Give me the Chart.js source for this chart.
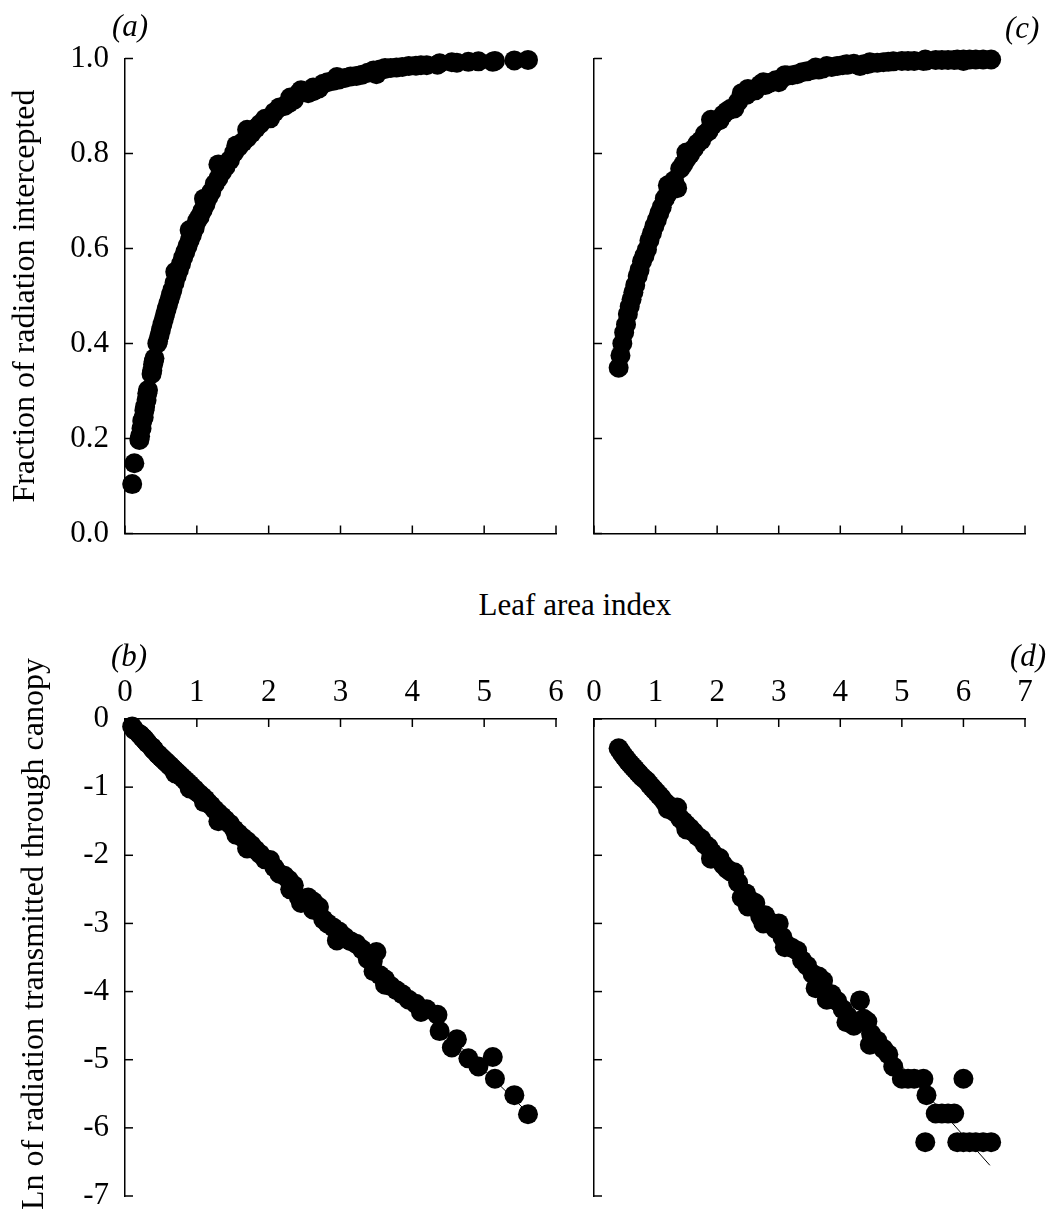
<!DOCTYPE html>
<html>
<head>
<meta charset="utf-8">
<script src="https://cdn.jsdelivr.net/npm/chart.js@4.4.0/dist/chart.umd.min.js"></script>
<style>
  html, body { margin: 0; padding: 0; background: #fff; overflow: hidden; }
  #page { position: relative; width: 1053px; height: 1209px; font-family: 'Liberation Serif', 'Times New Roman', serif; color: #000; }
  canvas { position: absolute; }
  .lbl { position: absolute; font-size: 31px; line-height: 31px; white-space: nowrap; }
  .panel { font-style: italic; }
  .ytitle { position: absolute; width: 700px; font-size: 32px; line-height: 32px; text-align: center; white-space: nowrap; transform: rotate(-90deg); }
</style>
</head>
<body>
<div id="page">
  <canvas id="chartA" width="575" height="575" style="left:0;top:0"></canvas>
  <canvas id="chartC" width="478" height="575" style="left:575px;top:0"></canvas>
  <canvas id="chartB" width="575" height="600" style="left:0;top:640px"></canvas>
  <canvas id="chartD" width="478" height="600" style="left:575px;top:640px"></canvas>

  <div class="lbl panel" style="left:112px;top:10px">(a)</div>
  <div class="lbl panel" style="left:1005px;top:12px">(c)</div>
  <div class="lbl panel" style="left:111px;top:640px">(b)</div>
  <div class="lbl panel" style="left:1010px;top:640px">(d)</div>

  <div class="lbl" style="left:375px;width:400px;text-align:center;top:589px">Leaf area index</div>
  <div class="ytitle" style="left:-327px;top:280px">Fraction of radiation intercepted</div>
  <div class="ytitle" style="left:-318px;top:918px">Ln of radiation transmitted through canopy</div>
</div>

<script>
// Leaf area index of each observation, first crop (panels a and b)
const laiAB = [0.10, 0.13, 0.20, 0.21, 0.23, 0.24, 0.26, 0.27, 0.28, 0.30, 0.31, 0.32,
  0.37, 0.38, 0.39, 0.40, 0.41, 0.45, 0.46, 0.48, 0.50, 0.52, 0.54, 0.56, 0.58, 0.60,
  0.62, 0.64, 0.66, 0.69, 0.72, 0.75, 0.78, 0.81, 0.84, 0.87, 0.90, 0.93, 0.97, 1.00,
  1.04, 1.08, 1.12, 1.16, 1.20, 1.25, 1.30, 1.35, 1.40, 1.46, 1.52, 1.58, 1.64, 1.70,
  1.76, 1.82, 1.88, 1.95, 2.02, 2.08, 2.15, 2.22, 2.28, 2.35, 2.42, 2.48, 2.55, 2.62,
  2.70, 2.76, 2.82, 2.90, 2.98, 3.06, 3.14, 3.22, 3.30, 3.38, 3.46, 3.50, 3.55, 3.62,
  3.70, 3.78, 3.86, 3.95, 4.05, 4.12, 4.20, 4.35, 4.38, 4.55, 4.62, 4.78, 4.92, 5.12,
  5.15, 5.42, 5.61,
  0.70, 0.90, 1.10, 1.30, 1.55, 1.70, 2.30, 2.45, 2.62, 2.95, 3.45, 3.62];

// (a) fraction of radiation intercepted
const fracA = [0.104, 0.148, 0.197, 0.205, 0.221, 0.237, 0.244, 0.259, 0.267, 0.281, 0.295, 0.302,
  0.336, 0.343, 0.356, 0.362, 0.369, 0.400, 0.405, 0.417, 0.429, 0.440, 0.451, 0.462, 0.473, 0.483,
  0.493, 0.503, 0.513, 0.528, 0.542, 0.555, 0.568, 0.581, 0.593, 0.605, 0.617, 0.628, 0.643, 0.657,
  0.667, 0.680, 0.693, 0.708, 0.719, 0.736, 0.748, 0.761, 0.772, 0.786, 0.802, 0.814, 0.824, 0.833,
  0.843, 0.853, 0.862, 0.873, 0.874, 0.887, 0.897, 0.900, 0.906, 0.913, 0.927, 0.929, 0.927, 0.931,
  0.937, 0.947, 0.950, 0.953, 0.956, 0.959, 0.962, 0.963, 0.966, 0.970, 0.975, 0.967, 0.977, 0.978,
  0.980, 0.981, 0.982, 0.984, 0.985, 0.986, 0.986, 0.987, 0.990, 0.992, 0.991, 0.993, 0.994, 0.993,
  0.995, 0.996, 0.997,
  0.551, 0.639, 0.705, 0.777, 0.817, 0.850, 0.918, 0.933, 0.939, 0.961, 0.971, 0.980];

// (b) ln of radiation transmitted
const lnB = [-0.11, -0.16, -0.22, -0.23, -0.25, -0.27, -0.28, -0.30, -0.31, -0.33, -0.35, -0.36,
  -0.41, -0.42, -0.44, -0.45, -0.46, -0.51, -0.52, -0.54, -0.56, -0.58, -0.60, -0.62, -0.64, -0.66,
  -0.68, -0.70, -0.72, -0.75, -0.78, -0.81, -0.84, -0.87, -0.90, -0.93, -0.96, -0.99, -1.03, -1.07,
  -1.10, -1.14, -1.18, -1.23, -1.27, -1.33, -1.38, -1.43, -1.48, -1.54, -1.62, -1.68, -1.74, -1.79,
  -1.85, -1.92, -1.98, -2.06, -2.07, -2.18, -2.27, -2.30, -2.36, -2.44, -2.62, -2.64, -2.62, -2.68,
  -2.76, -2.94, -3.00, -3.06, -3.12, -3.20, -3.26, -3.30, -3.38, -3.52, -3.70, -3.42, -3.76, -3.82,
  -3.92, -3.98, -4.04, -4.12, -4.18, -4.30, -4.26, -4.34, -4.58, -4.82, -4.70, -4.98, -5.10, -4.96,
  -5.28, -5.52, -5.80,
  -0.80, -1.02, -1.22, -1.50, -1.70, -1.90, -2.50, -2.70, -2.80, -3.25, -3.55, -3.90];

// Leaf area index, second crop (panels c and d)
const laiCD = [0.40, 0.43, 0.46, 0.49, 0.52, 0.55, 0.58, 0.61, 0.64, 0.67, 0.71, 0.74, 0.78, 0.82,
  0.86, 0.90, 0.94, 0.98, 1.02, 1.06, 1.10, 1.15, 1.20, 1.25, 1.30, 1.35, 1.40, 1.45, 1.50, 1.56,
  1.62, 1.68, 1.74, 1.80, 1.86, 1.92, 1.98, 2.04, 2.10, 2.16, 2.22, 2.28, 2.34, 2.40, 2.47, 2.54,
  2.62, 2.70, 2.78, 2.86, 2.95, 3.00, 3.06, 3.14, 3.22, 3.30, 3.38, 3.46, 3.55, 3.65, 3.72, 3.78,
  3.86, 3.95, 4.04, 4.12, 4.22, 4.32, 4.38, 4.44, 4.50, 4.48, 4.60, 4.70, 4.78, 4.86, 5.00, 5.10,
  5.20, 5.35, 5.40, 5.38, 5.55, 5.65, 5.75, 5.85, 6.00, 5.90, 6.00, 6.10, 6.20, 6.32, 6.45,
  1.20, 1.50, 1.90, 2.50, 2.75, 3.10, 3.60, 4.10];

// (c) fraction of radiation intercepted
const fracC = [0.349, 0.375, 0.400, 0.423, 0.440, 0.462, 0.478, 0.493, 0.508, 0.523, 0.542, 0.555,
  0.573, 0.585, 0.598, 0.617, 0.632, 0.647, 0.660, 0.674, 0.687, 0.705, 0.716, 0.730, 0.743, 0.727,
  0.768, 0.777, 0.788, 0.798, 0.810, 0.821, 0.828, 0.841, 0.847, 0.859, 0.867, 0.870, 0.882, 0.889,
  0.894, 0.895, 0.909, 0.927, 0.923, 0.930, 0.933, 0.945, 0.944, 0.949, 0.954, 0.950, 0.959, 0.964,
  0.965, 0.967, 0.971, 0.973, 0.976, 0.977, 0.979, 0.984, 0.982, 0.984, 0.986, 0.987, 0.989, 0.984,
  0.988, 0.988, 0.990, 0.992, 0.991, 0.992, 0.993, 0.994, 0.995, 0.995, 0.995, 0.995, 0.996, 0.998,
  0.997, 0.997, 0.997, 0.997, 0.995, 0.998, 0.998, 0.998, 0.998, 0.998, 0.998,
  0.733, 0.802, 0.871, 0.936, 0.950, 0.965, 0.981, 0.988];

// (d) ln of radiation transmitted
const lnD = [-0.43, -0.47, -0.51, -0.55, -0.58, -0.62, -0.65, -0.68, -0.71, -0.74, -0.78, -0.81,
  -0.85, -0.88, -0.91, -0.96, -1.00, -1.04, -1.08, -1.12, -1.16, -1.22, -1.26, -1.31, -1.36, -1.30,
  -1.46, -1.50, -1.55, -1.60, -1.66, -1.72, -1.76, -1.84, -1.88, -1.96, -2.02, -2.04, -2.14, -2.20,
  -2.24, -2.25, -2.40, -2.62, -2.56, -2.66, -2.70, -2.90, -2.88, -2.98, -3.08, -3.00, -3.20, -3.32,
  -3.36, -3.40, -3.54, -3.62, -3.74, -3.78, -3.84, -4.12, -4.04, -4.14, -4.26, -4.36, -4.50, -4.13,
  -4.40, -4.44, -4.62, -4.78, -4.72, -4.84, -4.92, -5.10, -5.28, -5.28, -5.28, -5.28, -5.52, -6.21,
  -5.79, -5.79, -5.79, -5.79, -5.28, -6.21, -6.21, -6.21, -6.21, -6.21, -6.21,
  -1.32, -1.62, -2.05, -2.75, -3.00, -3.35, -3.95, -4.45];

// regression lines in (b) and (d), end points
const fitBx = [0.10, 5.61];
const fitBy = [-0.10, -5.78];
const fitDx = [0.40, 6.43];
const fitDy = [-0.42, -6.55];

const fontFamily = "'Liberation Serif', 'Times New Roman', serif";

function toPoints(xs, ys) {
  return xs.map((x, i) => ({ x: x, y: ys[i] }));
}

// tick marks pointing into the plot area
const inwardTicks = {
  id: 'inwardTicks',
  afterDraw(chart) {
    const ctx = chart.ctx;
    ctx.save();
    ctx.strokeStyle = '#000';
    ctx.lineWidth = 1.5;
    Object.values(chart.scales).forEach(s => {
      s.ticks.forEach(t => {
        const p = s.getPixelForValue(t.value);
        ctx.beginPath();
        if (s.isHorizontal()) {
          const y0 = s.position === 'top' ? s.bottom : s.top;
          const dir = s.position === 'top' ? 1 : -1;
          ctx.moveTo(p, y0);
          ctx.lineTo(p, y0 + dir * 8);
        } else {
          ctx.moveTo(s.right, p);
          ctx.lineTo(s.right + 8, p);
        }
        ctx.stroke();
      });
    });
    ctx.restore();
  }
};

function makePanel(id, c) {
  const datasets = [{
    data: toPoints(c.xs, c.ys),
    backgroundColor: '#000',
    borderWidth: 0,
    pointRadius: 10,
    pointHoverRadius: 10,
    clip: false,
    order: 0
  }];
  if (c.fitX) {
    datasets.push({
      type: 'line',
      data: toPoints(c.fitX, c.fitY),
      borderColor: '#000',
      borderWidth: 1,
      pointRadius: 0,
      fill: false,
      clip: false,
      order: 1
    });
  }
  return new Chart(document.getElementById(id), {
    type: 'scatter',
    data: { datasets: datasets },
    options: {
      responsive: false,
      animation: false,
      devicePixelRatio: 1,
      layout: { padding: c.padding },
      plugins: { legend: { display: false }, tooltip: { enabled: false } },
      scales: {
        x: {
          type: 'linear',
          position: c.xPos,
          min: 0,
          max: c.xMax,
          grid: { display: false, drawTicks: false },
          border: { display: true, color: '#000', width: 1.5 },
          ticks: {
            display: c.xLabels,
            stepSize: 1,
            autoSkip: false,
            maxRotation: 0,
            padding: 8,
            color: '#000',
            font: { family: fontFamily, size: 31 }
          },
          afterFit: s => { s.height = c.xHeight; }
        },
        y: {
          type: 'linear',
          min: c.yMin,
          max: c.yMax,
          grid: { display: false, drawTicks: false },
          border: { display: true, color: '#000', width: 1.5 },
          ticks: {
            display: c.yLabels,
            stepSize: c.yStep,
            padding: 16,
            color: '#000',
            font: { family: fontFamily, size: 31 },
            callback: c.yFormat
          },
          afterFit: s => { s.width = c.yWidth; }
        }
      }
    },
    plugins: [inwardTicks]
  });
}

makePanel('chartA', {
  xs: laiAB, ys: fracA, xPos: 'bottom', xMax: 6, xLabels: false, xHeight: 41.5,
  yMin: 0, yMax: 1, yStep: 0.2, yLabels: true, yWidth: 125,
  yFormat: v => v.toFixed(1),
  padding: { top: 58.5, right: 19, bottom: 0, left: 0 }
});

makePanel('chartC', {
  xs: laiCD, ys: fracC, xPos: 'bottom', xMax: 7, xLabels: false, xHeight: 41.5,
  yMin: 0, yMax: 1, yStep: 0.2, yLabels: false, yWidth: 19,
  yFormat: v => v.toFixed(1),
  padding: { top: 58.5, right: 28, bottom: 0, left: 0 }
});

makePanel('chartB', {
  xs: laiAB, ys: lnB, fitX: fitBx, fitY: fitBy, xPos: 'top', xMax: 6, xLabels: true, xHeight: 79,
  yMin: -7, yMax: 0, yStep: 1, yLabels: true, yWidth: 125,
  yFormat: v => String(v),
  padding: { top: 0, right: 19, bottom: 44, left: 0 }
});

makePanel('chartD', {
  xs: laiCD, ys: lnD, fitX: fitDx, fitY: fitDy, xPos: 'top', xMax: 7, xLabels: true, xHeight: 79,
  yMin: -7, yMax: 0, yStep: 1, yLabels: false, yWidth: 19,
  yFormat: v => String(v),
  padding: { top: 0, right: 28, bottom: 44, left: 0 }
});
</script>
</body>
</html>
